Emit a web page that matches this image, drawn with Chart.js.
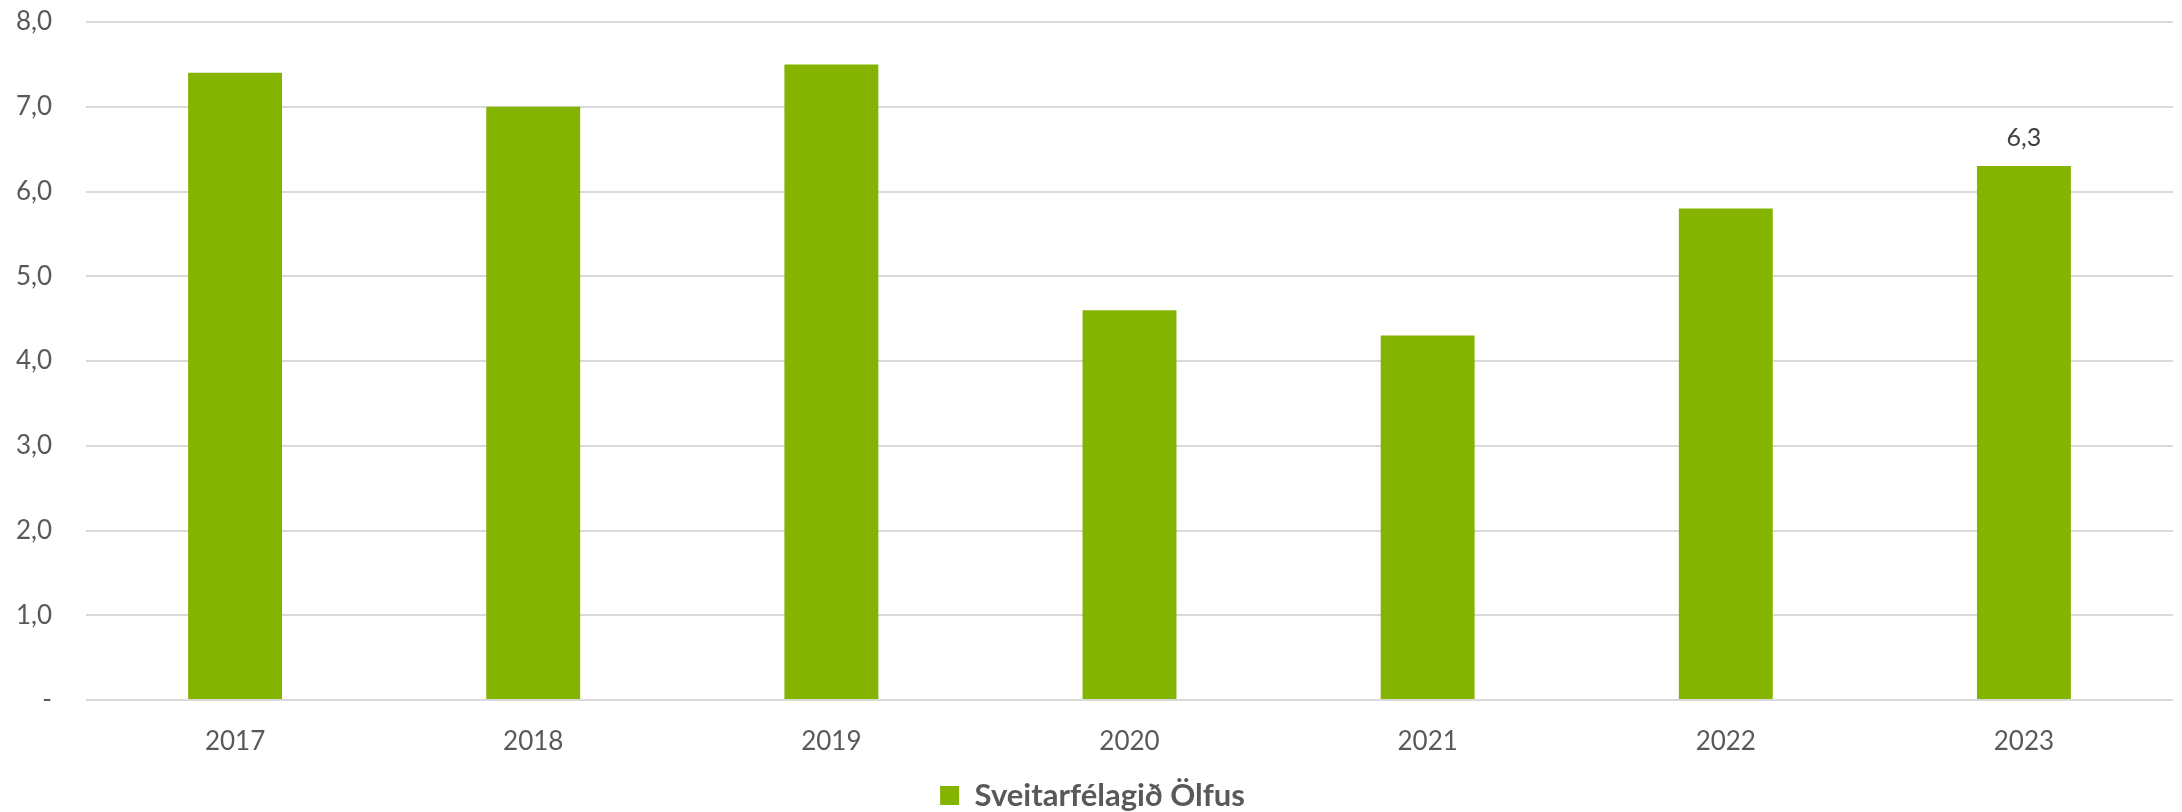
<!DOCTYPE html>
<html>
<head>
<meta charset="utf-8">
<script src="https://cdn.jsdelivr.net/npm/chart.js@4/dist/chart.umd.min.js"></script>
<style>
	html, body { margin: 0; padding: 0; background: #fff; }
	#wrap { width: 2182px; height: 812px; }
</style>
</head>
<body>
<div id="wrap"><canvas id="chart" width="2182" height="812"></canvas></div>
<script>
const years = ["2017", "2018", "2019", "2020", "2021", "2022", "2023"];
const values = [7.4, 7.0, 7.5, 4.6, 4.3, 5.8, 6.3];
const yTicks = [0, 1, 2, 3, 4, 5, 6, 7, 8];
const seriesName = "Sveitarfélagið Ölfus";

function fmtVal(v) {
	if (v === 0) return "-";
	return v.toFixed(1).replace(".", ",");
}

// label only on the last bar, as in the original
const lastLabel = {
	id: "lastLabel",
	afterDatasetsDraw(chart) {
		const ctx = chart.ctx;
		const meta = chart.getDatasetMeta(0);
		const i = values.length - 1;
		const bar = meta.data[i];
		ctx.save();
		ctx.font = "25px Lato";
		ctx.fillStyle = "#404040";
		ctx.textAlign = "center";
		ctx.textBaseline = "middle";
		ctx.fillText(fmtVal(values[i]), bar.x, bar.y - 28);
		ctx.restore();
	},
};

new Chart(document.getElementById("chart"), {
	type: "bar",
	data: {
		labels: years,
		datasets: [
			{
				label: seriesName,
				data: values,
				backgroundColor: "#84B400",
				categoryPercentage: 1,
				barPercentage: 0.315,
			},
		],
	},
	options: {
		responsive: false,
		animation: false,
		layout: { padding: { top: 22, right: 9, bottom: 0, left: 12 } },
		plugins: {
			legend: {
				position: "bottom",
				maxHeight: 34,
				labels: {
					color: "#595959",
					font: { family: "Lato", size: 31, weight: "bold" },
					boxWidth: 19,
					boxHeight: 19,
					padding: 2,
				},
			},
			tooltip: { enabled: false },
		},
		scales: {
			x: {
				grid: { display: false },
				border: { display: false },
				ticks: {
					color: "#595959",
					font: { family: "Lato", size: 26 },
					padding: 18,
				},
				afterFit: (s) => { s.height = 78; },
			},
			y: {
				min: 0,
				max: 8,
				afterBuildTicks: (s) => { s.ticks = yTicks.map((v) => ({ value: v })); },
				grid: { color: "#d9d9d9", lineWidth: 2, drawTicks: true, tickLength: 34, tickColor: "rgba(0,0,0,0)" },
				border: { display: false },
				ticks: {
					color: "#595959",
					font: { family: "Lato", size: 26 },
					padding: 0,
					callback: (v) => fmtVal(v),
				},
				afterFit: (s) => { s.width = 74; },
			},
		},
	},
	plugins: [lastLabel],
});
</script>
</body>
</html>
